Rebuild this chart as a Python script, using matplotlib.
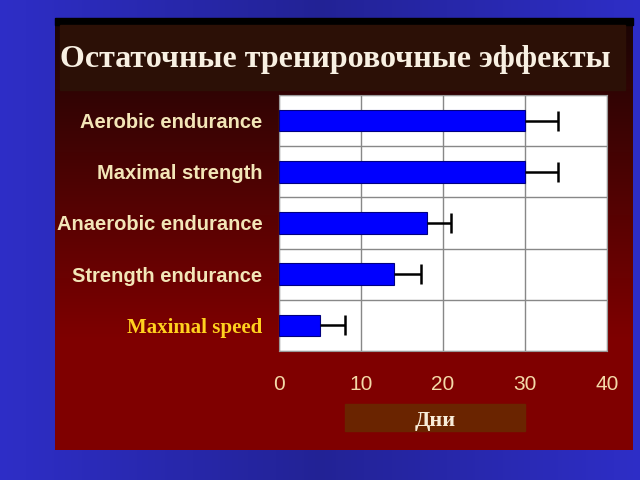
import numpy as np
import matplotlib.pyplot as plt
from matplotlib.patches import Rectangle

categories = ["Aerobic endurance", "Maximal strength", "Anaerobic endurance",
              "Strength endurance", "Maximal speed"]
days = [30, 30, 18, 14, 5]
errors = [4, 4, 3, 3.3, 3]
xticks = [0, 10, 20, 30, 40]

fig = plt.figure(figsize=(6.4, 4.8), dpi=100)

# blue slide background
bg = fig.add_axes([0, 0, 1, 1])
gx = np.linspace(0, 1, 256)
blue = np.zeros((2, 256, 3))
shade = 0.75 + 0.25 * np.abs(gx - 0.5) * 2
blue[..., 0] = 0.18 * shade
blue[..., 1] = 0.18 * shade
blue[..., 2] = 0.78 * shade
bg.imshow(blue, extent=[0, 1, 0, 1], aspect="auto")
bg.set_xlim(0, 1)
bg.set_ylim(0, 1)
bg.axis("off")

# dark red panel with vertical gradient
px0, py0, px1, py1 = 55 / 640, 1 - 450 / 480, 633 / 640, 1 - 18 / 480
gy = np.linspace(0, 1, 256)[:, None]
top = np.array([0.10, 0.02, 0.02])
bot = np.array([0.50, 0.0, 0.0])
t = np.clip(gy / 0.75, 0, 1)
red = (top * (1 - t) + bot * t)[:, None, :] * np.ones((1, 2, 1))
bg.imshow(red, extent=[px0, px1, py0, py1], aspect="auto", origin="upper")
bg.add_patch(Rectangle((px0, 1 - 25 / 480), px1 - px0, 7 / 480, color="black"))
bg.add_patch(Rectangle((60 / 640, 1 - 90 / 480), 565 / 640, 65 / 480,
                       color="#2c1006"))
bg.text(60 / 640, 1 - 60 / 480, "Остаточные тренировочные эффекты",
        family="Liberation Serif", weight="bold", fontsize=23,
        color="#f8f0e2", va="center", ha="left")
bg.add_patch(Rectangle((345 / 640, 1 - 431 / 480), 180 / 640, 27 / 480,
                       color="#6a2400"))
bg.text(435 / 640, 1 - 421 / 480, "Дни", family="Liberation Serif",
        weight="bold", fontsize=16, color="#f8ecd8", ha="center", va="center")

ax = fig.add_axes([279 / 640, 1 - 351 / 480, 328 / 640, 256 / 480])
ax.set_facecolor("white")
y = np.arange(len(categories))
ax.barh(y, days, height=0.42, color="#0000ff", edgecolor="#000080",
        linewidth=0.8, zorder=3)
# one-sided error bars: line from bar end, cap only at the far end
err_end = [d + e for d, e in zip(days, errors)]
ax.hlines(y, days, err_end, color="black", linewidth=1.8, zorder=4)
ax.plot(err_end, y, linestyle="none", marker="|", markersize=15,
        markeredgewidth=1.8, color="black", zorder=4)
ax.set_xlim(0, 40)
ax.set_ylim(len(categories) - 0.5, -0.5)
ax.set_xticks(xticks)
ax.set_xticklabels([str(v) for v in xticks], family="Liberation Sans",
                   fontsize=15, color="#f3d9a8")
ax.set_yticks(y)
ax.set_yticklabels(categories, family="Liberation Sans", weight="bold",
                   fontsize=14.5, color="#f3e6b8")
lbl = ax.get_yticklabels()[-1]
lbl.set_family("Liberation Serif")
lbl.set_color("#ffd21f")
lbl.set_fontsize(15)
ax.tick_params(axis="x", length=0, pad=17)
ax.tick_params(axis="y", length=0, pad=12)
ax.set_yticks(np.arange(-0.5, len(categories), 1), minor=True)
ax.grid(axis="x", color="#888888", linewidth=1, zorder=0)
ax.grid(axis="y", which="minor", color="#888888", linewidth=1, zorder=0)
ax.tick_params(which="minor", length=0)
for s in ax.spines.values():
    s.set_color("#999999")

fig.savefig("out.png", dpi=100)
